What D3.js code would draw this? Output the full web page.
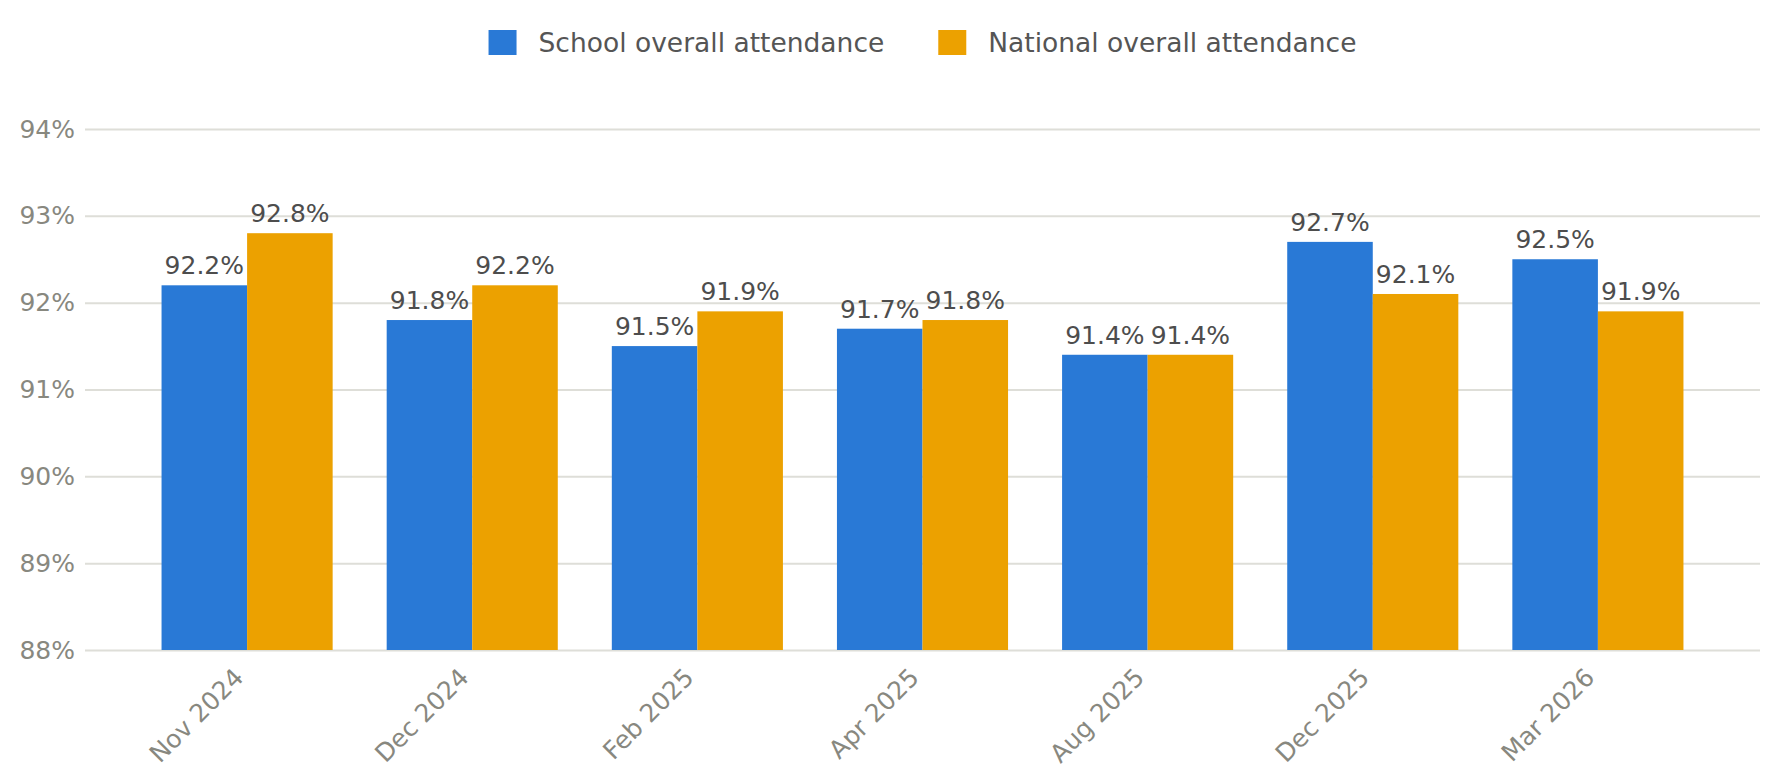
<!DOCTYPE html>
<html>
<head>
<meta charset="utf-8">
<script src="https://cdn.jsdelivr.net/npm/d3@7"></script>
<style>
  body { margin: 0; background: #fff; }
  svg { display: block; font-family: "DejaVu Sans", sans-serif; }
</style>
</head>
<body>
<div id="chart"></div>
<script>
// chart data
const months = ["Nov 2024", "Dec 2024", "Feb 2025", "Apr 2025", "Aug 2025", "Dec 2025", "Mar 2026"];
const schoolAttendance = [92.2, 91.8, 91.5, 91.7, 91.4, 92.7, 92.5];
const nationalAttendance = [92.8, 92.2, 91.9, 91.8, 91.4, 92.1, 91.9];
const seriesNames = ["School overall attendance", "National overall attendance"];
const yTicks = [88, 89, 90, 91, 92, 93, 94];

const svgWidth = 1779, svgHeight = 783;
const plotLeft = 85, plotRight = 1760, plotTop = 129, plotBottom = 650;
const colors = ["#2979d6", "#eca100"];

const svg = d3.select("#chart").append("svg")
    .attr("width", svgWidth)
    .attr("height", svgHeight);

const x = d3.scaleBand().domain(months).range([plotLeft, plotRight]).paddingInner(0.24).paddingOuter(0.34);
const xInner = d3.scaleBand().domain([0, 1]).range([0, x.bandwidth()]);
const y = d3.scaleLinear().domain([88, 94]).range([plotBottom, plotTop]);

// gridlines + y labels
const yAxis = svg.append("g")
    .attr("transform", "translate(" + plotLeft + ",0)")
    .call(d3.axisLeft(y).tickValues(yTicks).tickSize(-(plotRight - plotLeft)).tickPadding(10).tickFormat(d => d + "%"));
yAxis.select(".domain").remove();
yAxis.selectAll(".tick line").attr("stroke", "#deded8").attr("stroke-width", 2);
yAxis.selectAll(".tick text")
    .attr("fill", "#88887f")
    .style("font-size", "25px")
    .style("font-family", "DejaVu Sans, sans-serif");

// grouped bars
const rows = months.map((m, i) => ({ month: m, values: [schoolAttendance[i], nationalAttendance[i]] }));

const groups = svg.selectAll(".group").data(rows).enter().append("g")
    .attr("class", "group")
    .attr("transform", d => "translate(" + x(d.month) + ",0)");

groups.selectAll("rect").data(d => d.values.map((v, k) => ({ k: k, v: v }))).enter().append("rect")
    .attr("x", d => xInner(d.k))
    .attr("width", xInner.bandwidth())
    .attr("y", d => y(d.v))
    .attr("height", d => y(88) - y(d.v))
    .attr("fill", d => colors[d.k]);

groups.selectAll(".val").data(d => d.values.map((v, k) => ({ k: k, v: v }))).enter().append("text")
    .attr("class", "val")
    .attr("x", d => xInner(d.k) + xInner.bandwidth() / 2)
    .attr("y", d => y(d.v) - 11)
    .attr("text-anchor", "middle")
    .attr("fill", "#4d4d4d")
    .style("font-size", "25px")
    .text(d => d.v.toFixed(1) + "%");

// x labels, rotated
svg.append("g").selectAll("text").data(months).enter().append("text")
    .attr("transform", d => "translate(" + (x(d) + x.bandwidth() / 2 - 2) + "," + (plotBottom + 29) + ") rotate(-45)")
    .attr("text-anchor", "end")
    .attr("fill", "#88887f")
    .style("font-size", "25px")
    .text(d => d);

// legend, centred over the plot
const legend = svg.append("g");
let cursor = 0;
seriesNames.forEach((name, i) => {
    const item = legend.append("g").attr("transform", "translate(" + cursor + ",0)");
    item.append("rect").attr("x", 0).attr("y", 30).attr("width", 28).attr("height", 25).attr("fill", colors[i]);
    const t = item.append("text")
        .attr("x", 50)
        .attr("y", 52)
        .attr("fill", "#555")
        .style("font-size", "26.5px")
        .text(name);
    cursor += 50 + t.node().getComputedTextLength() + 54;
});
const legendWidth = cursor - 54;
legend.attr("transform", "translate(" + ((plotLeft + plotRight) / 2 - legendWidth / 2) + ",0)");
</script>
</body>
</html>
